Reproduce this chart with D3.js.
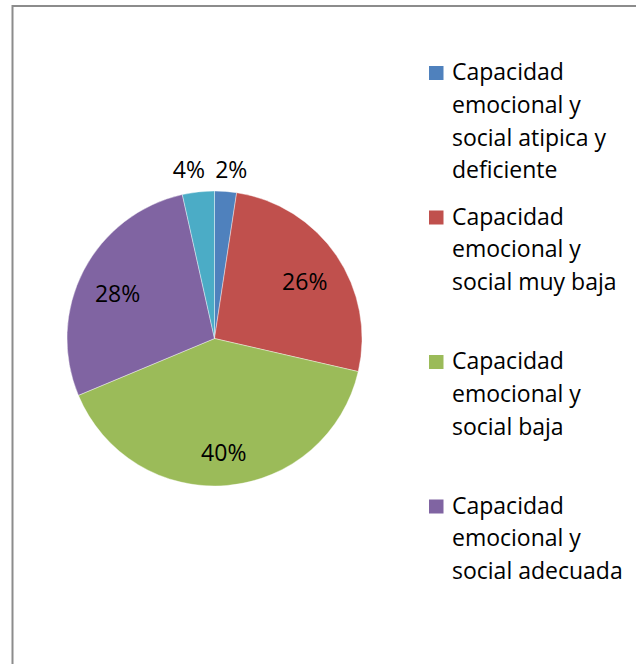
<!DOCTYPE html>
<html>
<head>
<meta charset="utf-8">
<script src="https://cdn.jsdelivr.net/npm/d3@7"></script>
<style>
  body { margin: 0; background: #fff; }
  svg { display: block; }
</style>
</head>
<body>
<script>
// categories and shares (percent)
var categories = [
  'Capacidad emocional y social atipica y deficiente',
  'Capacidad emocional y social muy baja',
  'Capacidad emocional y social baja',
  'Capacidad emocional y social adecuada',
  'Capacidad emocional y social alta'
];
var values = [2.4, 26.2, 40.1, 27.8, 3.5];
var colors = ['#4F81BD', '#C0504D', '#9BBB59', '#8064A2', '#4BACC6'];
// legend lines as wrapped in the picture (the fifth entry is cut off)
var legendLines = [
  ['Capacidad', 'emocional y', 'social atipica y', 'deficiente'],
  ['Capacidad', 'emocional y', 'social muy baja'],
  ['Capacidad', 'emocional y', 'social baja'],
  ['Capacidad', 'emocional y', 'social adecuada']
];

var width = 636;
var height = 664;
var cx = 214.5;
var cy = 338.5;
var radius = 147.5;
var font = '"Open Sans", sans-serif';

var data = categories.map(function (c, i) {
  return {name: c, value: values[i], color: colors[i]};
});

var svg = d3.select('body')
            .append('svg')
            .attr('width', width)
            .attr('height', height);

// chart frame, runs off the right and bottom edges
svg.append('rect')
   .attr('x', 12.5)
   .attr('y', 6)
   .attr('width', 700)
   .attr('height', 700)
   .attr('fill', 'none')
   .attr('stroke', '#8c8c8c')
   .attr('stroke-width', 2);

var pie = d3.pie()
            .sort(null)
            .value(function (d) { return d.value; });

var arc = d3.arc()
            .innerRadius(0)
            .outerRadius(radius);

var g = svg.append('g')
           .attr('transform', 'translate(' + cx + ',' + cy + ')');

var arcs = pie(data);

g.selectAll('path')
  .data(arcs)
  .enter()
  .append('path')
    .attr('d', arc)
    .attr('fill', function (d) { return d.data.color; })
    .attr('stroke', '#ffffff')
    .attr('stroke-width', 0.4);

// inside labels for big slices, outside for small ones
var inner = d3.arc().innerRadius(radius * 0.74).outerRadius(radius * 0.74);
var outer = d3.arc().innerRadius(radius * 1.15).outerRadius(radius * 1.15);

g.selectAll('text.pct')
  .data(arcs)
  .enter()
  .append('text')
    .attr('class', 'pct')
    .attr('transform', function (d) {
      var pos;
      if (d.data.value < 5) {
        pos = outer.centroid(d);
        // push the two small labels apart a bit
        pos[0] += pos[0] > 0 ? 4 : -7;
      } else {
        pos = inner.centroid(d);
        pos[1] += 5;
      }
      return 'translate(' + pos + ')';
    })
    .attr('text-anchor', 'middle')
    .attr('dy', '0.36em')
    .style('font-family', font)
    .style('font-size', '23px')
    .style('fill', '#000')
    .text(function (d) { return Math.round(d.data.value) + '%'; });

// legend
var legend = svg.append('g')
                .attr('transform', 'translate(429, 65)');

var item = legend.selectAll('g')
                 .data(legendLines)
                 .enter()
                 .append('g')
                   .attr('transform', function (d, i) { return 'translate(0,' + (i * 144.5) + ')'; });

item.append('rect')
    .attr('x', 0)
    .attr('y', 1)
    .attr('width', 14.5)
    .attr('height', 14)
    .attr('fill', function (d, i) { return colors[i]; });

item.selectAll('text')
    .data(function (d) { return d; })
    .enter()
    .append('text')
      .attr('x', 23)
      .attr('y', function (d, j) { return 15 + j * 32.8; })
      .style('font-family', font)
      .style('font-size', '23px')
      .style('fill', '#000')
      .text(function (d) { return d; });
</script>
</body>
</html>
